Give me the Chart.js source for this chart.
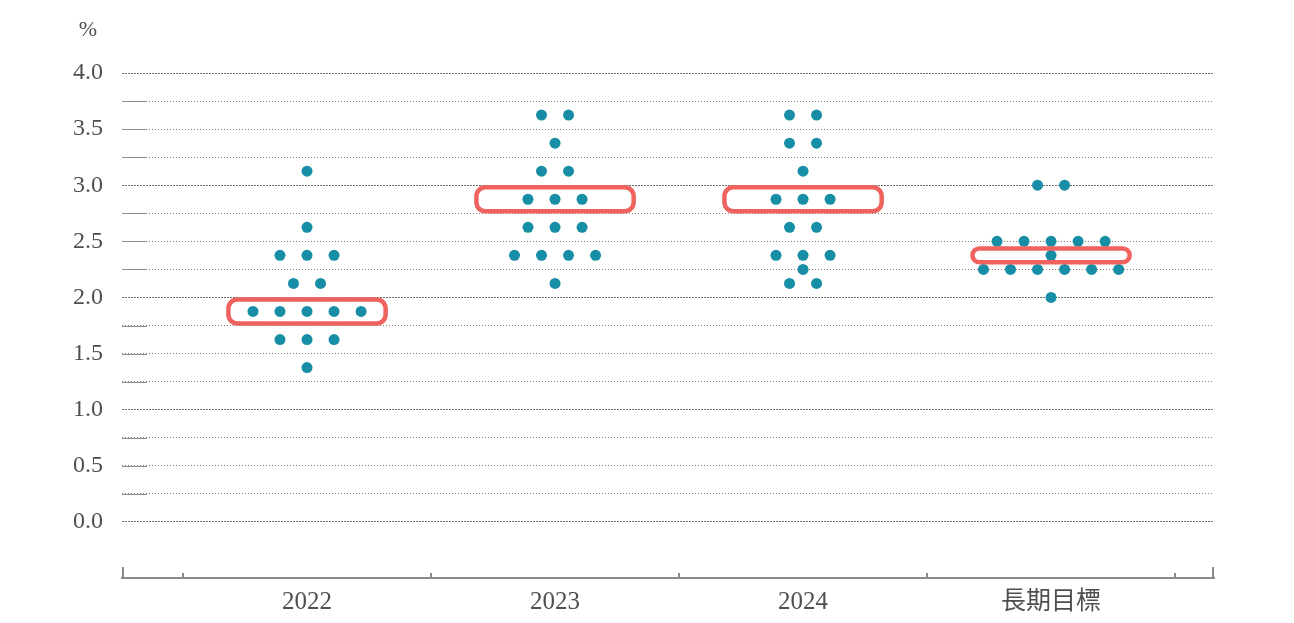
<!DOCTYPE html>
<html>
<head>
<meta charset="utf-8">
<script src="https://cdn.jsdelivr.net/npm/chart.js@4.4.1/dist/chart.umd.min.js"></script>
<style>
  html, body { margin: 0; padding: 0; background: #fff; }
  #wrap { width: 1294px; height: 623px; }
</style>
</head>
<body>
<div id="wrap"><canvas id="dots"></canvas></div>
<script>
  // one entry per participant
  const categories = ['2022', '2023', '2024', '長期目標'];
  const proj2022 = [3.125, 2.625, 2.375, 2.375, 2.375, 2.125, 2.125,
    1.875, 1.875, 1.875, 1.875, 1.875, 1.625, 1.625, 1.625, 1.375];
  const proj2023 = [3.625, 3.625, 3.375, 3.125, 3.125, 2.875, 2.875, 2.875,
    2.625, 2.625, 2.625, 2.375, 2.375, 2.375, 2.375, 2.125];
  const proj2024 = [3.625, 3.625, 3.375, 3.375, 3.125, 2.875, 2.875, 2.875,
    2.625, 2.625, 2.375, 2.375, 2.375, 2.25, 2.125, 2.125];
  const projLonger = [3.0, 3.0, 2.5, 2.5, 2.5, 2.5, 2.5, 2.375,
    2.25, 2.25, 2.25, 2.25, 2.25, 2.25, 2.0];
  const highlighted = [1.875, 2.875, 2.875, 2.375];
  const yLabelValues = [0, 0.5, 1, 1.5, 2, 2.5, 3, 3.5, 4];

  const teal = '#178ea6';
  const red = '#ef625e';
  const ink = '#4f4f4f';
  const serif = "'Liberation Serif', 'Noto Sans CJK TC', serif";

  // spread equal values side by side around the category centre
  function dotsFor(values, idx) {
    const groups = {};
    values.forEach(function (v) { (groups[v] = groups[v] || []).push(v); });
    const pts = [];
    Object.keys(groups).forEach(function (k) {
      const n = groups[k].length;
      groups[k].forEach(function (v, j) {
        pts.push({ x: idx + (j - (n - 1) / 2) * 0.109, y: v });
      });
    });
    return pts;
  }

  const allProj = [proj2022, proj2023, proj2024, projLonger];
  const points = [];
  allProj.forEach(function (arr, i) { points.push.apply(points, dotsFor(arr, i)); });

  const dotPlotExtras = {
    id: 'dotPlotExtras',
    beforeDatasetsDraw(chart) {
      const { ctx, chartArea, scales } = chart;
      const y = scales.y;
      // short solid lead-in on the dotted quarter lines
      ctx.save();
      ctx.strokeStyle = '#8c8c8c';
      ctx.lineWidth = 1;
      y.ticks.forEach(function (t) {
        if (t.value < 0 || Number.isInteger(t.value)) return;
        const py = Math.round(y.getPixelForValue(t.value)) + 0.5;
        ctx.beginPath();
        ctx.moveTo(chartArea.left, py);
        ctx.lineTo(chartArea.left + 25, py);
        ctx.stroke();
      });
      ctx.restore();
    },
    afterDatasetsDraw(chart) {
      const { ctx, scales } = chart;
      const x = scales.x, y = scales.y;
      ctx.save();
      ctx.strokeStyle = red;
      ctx.lineWidth = 4.5;
      highlighted.forEach(function (v, i) {
        const half = i === 3 ? 0.062 : 0.107;
        const x0 = x.getPixelForValue(i - 0.317);
        const x1 = x.getPixelForValue(i + 0.317);
        const y0 = y.getPixelForValue(v + half);
        const y1 = y.getPixelForValue(v - half);
        ctx.beginPath();
        ctx.roundRect(x0, y0, x1 - x0, y1 - y0, Math.min(9, (y1 - y0) / 2));
        ctx.stroke();
      });
      ctx.restore();
    },
    afterDraw(chart) {
      const { ctx, chartArea, scales } = chart;
      const x = scales.x, y = scales.y;
      ctx.save();
      ctx.strokeStyle = '#8a8a8a';
      ctx.lineWidth = 2;
      const base = chartArea.bottom;
      // end ticks
      [chartArea.left + 1, chartArea.right - 1].forEach(function (px) {
        ctx.beginPath();
        ctx.moveTo(px, base);
        ctx.lineTo(px, base - 11);
        ctx.stroke();
      });
      // category boundaries
      for (let i = 0; i <= categories.length; i++) {
        const px = Math.round(x.getPixelForValue(i - 0.5));
        ctx.beginPath();
        ctx.moveTo(px, base);
        ctx.lineTo(px, base - 5);
        ctx.stroke();
      }
      // unit label
      ctx.fillStyle = ink;
      ctx.font = '22px ' + serif;
      ctx.textAlign = 'center';
      ctx.textBaseline = 'middle';
      ctx.fillText('%', chartArea.left - 34, y.getPixelForValue(4) - 43);
      ctx.restore();
    }
  };

  new Chart(document.getElementById('dots'), {
    type: 'scatter',
    data: {
      datasets: [{
        data: points,
        pointRadius: 5.5,
        pointHoverRadius: 5.5,
        pointBackgroundColor: teal,
        pointBorderWidth: 0
      }]
    },
    options: {
      responsive: true,
      maintainAspectRatio: false,
      animation: false,
      events: [],
      layout: { padding: { left: 0, right: 80, top: 73, bottom: 0 } },
      plugins: {
        legend: { display: false },
        tooltip: { enabled: false }
      },
      scales: {
        x: {
          type: 'linear',
          min: -0.746,
          max: 3.657,
          afterBuildTicks: function (scale) {
            scale.ticks = categories.map(function (c, i) { return { value: i }; });
          },
          afterFit: function (scale) { scale.height = 45; },
          ticks: {
            callback: function (v) { return categories[v]; },
            padding: 9,
            color: ink,
            autoSkip: false,
            maxRotation: 0,
            font: { family: serif, size: 25 }
          },
          grid: { display: false, drawTicks: false },
          border: { display: true, color: '#8a8a8a', width: 2 }
        },
        y: {
          min: -0.5,
          max: 4.0,
          afterFit: function (scale) { scale.width = 122; },
          ticks: {
            stepSize: 0.25,
            autoSkip: false,
            padding: 19,
            color: ink,
            font: { family: serif, size: 24 },
            callback: function (v) { return yLabelValues.includes(v) ? v.toFixed(1) : ''; }
          },
          grid: {
            drawTicks: false,
            lineWidth: 1,
            color: function (c) {
              const v = c.tick ? c.tick.value : 0;
              if (v < 0) return 'rgba(0,0,0,0)';
              return Number.isInteger(v) ? '#6e6e6e' : '#7f7f7f';
            }
          },
          border: {
            display: false,
            dash: function (c) {
              const v = c.tick ? c.tick.value : 0;
              return Number.isInteger(v) ? [2, 1] : [1, 2];
            }
          }
        }
      }
    },
    plugins: [dotPlotExtras]
  });
</script>
</body>
</html>
